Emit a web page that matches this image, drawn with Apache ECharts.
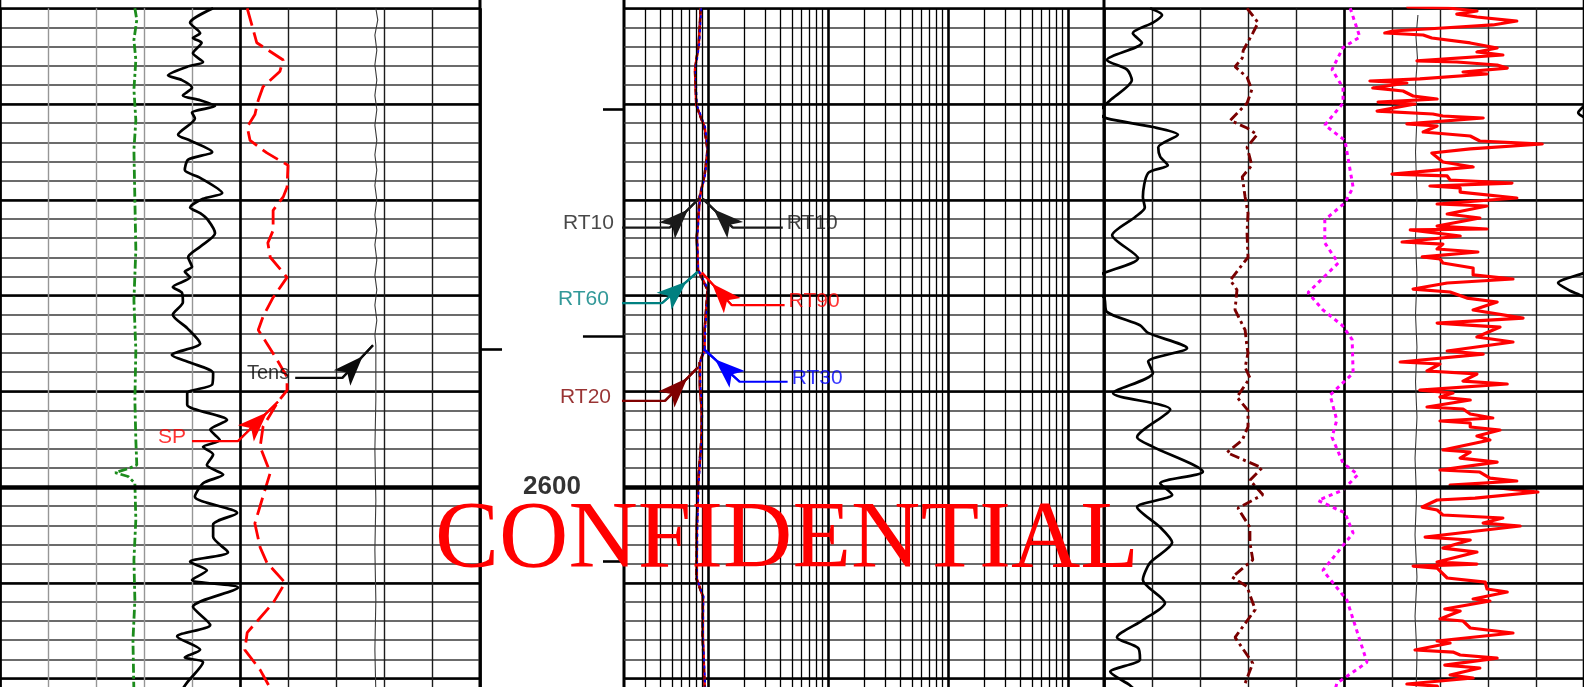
<!DOCTYPE html>
<html>
<head>
<meta charset="utf-8">
<script src="https://cdn.jsdelivr.net/npm/echarts@6.0.0/dist/echarts.min.js"></script>
<style>
html,body{margin:0;padding:0;background:#ffffff;}
#chart{width:1584px;height:687px;}
</style>
</head>
<body>
<div id="chart"></div>
<script>
// ================= DATA =================
// depth track
const depthLabels = [2600];
const depthTicksLeft = [2585.65];
const depthTicksRight = [2560.5, 2584.2, 2607.8];

// Track 1 curves: [value (divisions 0-10), depth]
const greenCurve = [[2.81,2550.0],[2.85,2551.2],[2.79,2553.3],[2.83,2555.4],[2.79,2558.5],[2.83,2561.7],[2.79,2564.8],[2.81,2570.0],[2.83,2575.2],[2.79,2580.5],[2.83,2585.7],[2.81,2590.9],[2.83,2595.1],[2.85,2597.7],[2.71,2598.0],[2.4,2598.5],[2.67,2598.9],[2.81,2599.6],[2.83,2603.4],[2.79,2607.6],[2.81,2611.8],[2.77,2616.0],[2.79,2621.5]];
const grCurve = [[4.44,2550.0],[3.96,2551.5],[4.17,2552.6],[4.02,2553.1],[4.2,2553.6],[4.02,2554.7],[4.23,2555.6],[3.9,2556.1],[3.5,2557.0],[3.79,2557.5],[4.0,2558.3],[3.81,2559.1],[4.17,2559.6],[4.48,2560.2],[4.0,2560.9],[4.06,2561.5],[3.71,2563.2],[3.96,2563.8],[4.42,2565.0],[3.92,2565.8],[3.85,2566.9],[4.17,2567.7],[4.63,2569.3],[4.23,2569.9],[3.96,2570.8],[4.17,2571.4],[4.33,2572.1],[4.48,2573.5],[4.17,2574.9],[3.92,2576.0],[4.0,2577.0],[3.85,2577.5],[3.96,2578.1],[3.6,2579.1],[3.79,2579.7],[3.81,2580.7],[3.6,2582.0],[3.9,2583.4],[4.17,2585.0],[3.58,2586.2],[3.96,2587.0],[4.44,2588.1],[4.42,2589.3],[3.9,2590.2],[3.9,2591.4],[4.73,2593.0],[4.38,2594.0],[4.58,2595.1],[4.23,2595.8],[4.44,2596.6],[4.31,2597.7],[4.65,2598.7],[4.23,2599.6],[4.06,2601.0],[4.94,2602.7],[4.44,2603.9],[4.44,2605.2],[4.75,2606.8],[3.96,2607.8],[4.31,2608.7],[4.0,2609.7],[4.96,2610.5],[4.02,2612.5],[4.38,2614.4],[3.69,2615.6],[4.17,2617.0],[3.85,2617.8],[4.23,2618.3],[3.9,2620.4],[3.75,2621.5]];
const spCurve = [[5.15,2550.0],[5.35,2553.6],[5.9,2555.4],[5.83,2556.6],[5.48,2558.2],[5.38,2559.6],[5.31,2561.1],[5.15,2562.4],[5.21,2563.8],[5.56,2565.1],[6.0,2566.4],[5.98,2568.7],[5.9,2569.7],[5.69,2571.1],[5.69,2573.2],[5.58,2574.5],[5.63,2576.0],[5.98,2578.1],[5.69,2580.2],[5.48,2582.2],[5.38,2583.6],[5.56,2585.0],[5.77,2586.7],[5.98,2588.5],[5.98,2589.9],[5.79,2591.1],[5.48,2593.7],[5.42,2595.8],[5.63,2598.5],[5.52,2600.3],[5.31,2603.8],[5.42,2606.3],[5.56,2607.9],[5.94,2610.0],[5.69,2612.1],[5.15,2615.2],[5.1,2617.0],[5.42,2619.1],[5.63,2621.0]];
const tensCurve = [[7.83,2550.0],[7.87,2551.2],[7.81,2552.8],[7.85,2554.4],[7.81,2555.9],[7.85,2557.5],[7.81,2559.1],[7.85,2560.6],[7.81,2562.2],[7.85,2563.8],[7.81,2565.3],[7.85,2566.9],[7.81,2568.5],[7.85,2570.0],[7.81,2571.6],[7.85,2573.2],[7.81,2574.7],[7.85,2576.3],[7.81,2577.9],[7.85,2579.4],[7.81,2581.0],[7.85,2582.6],[7.81,2584.1],[7.83,2585.2],[7.83,2590.9],[7.81,2596.1],[7.83,2601.4],[7.81,2606.6],[7.83,2611.8],[7.81,2617.0],[7.83,2621.5]];

// Track 2 resistivity curves (ohm.m), shared depth list
const rtDepth = [2550.0,2553.7,2556.4,2560.1,2562.4,2564.8,2567.4,2569.7,2573.9,2577.3,2579.4,2583.6,2585.7,2587.0,2589.6,2592.0,2595.0,2599.5,2604.1,2609.6,2611.4,2615.6,2620.6,2621.5];
const rt10 = [0.87,0.83,0.78,0.80,0.93,0.99,0.94,0.85,0.80,0.82,0.99,0.93,0.93,0.85,0.85,0.88,0.88,0.82,0.80,0.80,0.90,0.90,0.93,0.94];
const rt20 = [0.87,0.84,0.78,0.80,0.93,0.99,0.94,0.85,0.81,0.82,0.99,0.94,0.93,0.85,0.86,0.89,0.88,0.83,0.81,0.80,0.91,0.90,0.94,0.95];
const rt30 = [0.88,0.85,0.79,0.81,0.95,1.00,0.95,0.86,0.82,0.83,1.01,0.95,0.94,0.86,0.87,0.90,0.89,0.84,0.82,0.81,0.92,0.91,0.95,0.96];
const rt60 = [0.87,0.84,0.78,0.80,0.94,0.99,0.93,0.86,0.81,0.82,1.00,0.94,0.93,0.86,0.86,0.89,0.89,0.83,0.81,0.81,0.91,0.91,0.94,0.95];
const rt90 = [0.874,0.84,0.78,0.80,0.94,1.00,0.94,0.86,0.81,0.83,1.00,0.94,0.94,0.86,0.86,0.89,0.89,0.83,0.81,0.81,0.91,0.91,0.94,0.95];

// Track 3 curves: [value (divisions 0-10), depth]
const t3Black = [[0.96,2550.0],[1.21,2550.7],[1.02,2551.5],[0.6,2552.6],[0.79,2553.6],[0.06,2555.4],[0.48,2556.4],[0.58,2557.5],[0.13,2559.6],[-0.02,2560.3],[-0.12,2560.9],[0.06,2561.5],[1.02,2562.4],[1.54,2563.2],[1.13,2564.5],[1.17,2565.5],[1.33,2566.4],[0.92,2567.2],[0.81,2569.7],[0.85,2570.8],[0.65,2571.8],[0.17,2573.7],[0.71,2576.1],[0.02,2577.6],[-0.54,2578.7],[-0.29,2579.5],[0.0,2580.2],[0.06,2581.7],[0.75,2583.1],[0.92,2583.9],[1.73,2585.5],[0.92,2586.9],[1.02,2588.1],[0.19,2590.2],[1.38,2591.9],[0.69,2594.8],[1.02,2595.8],[2.06,2598.4],[1.17,2599.6],[1.42,2600.8],[0.69,2602.1],[1.17,2604.2],[1.42,2605.8],[0.96,2607.9],[0.81,2609.7],[1.27,2612.1],[0.81,2613.9],[0.27,2615.7],[0.71,2616.8],[0.75,2618.0],[0.13,2619.3],[0.54,2620.7],[0.7,2621.5]];
const t3Maroon = [[2.98,2550.0],[3.21,2551.5],[3.1,2552.6],[2.9,2554.4],[2.88,2555.2],[2.73,2556.1],[2.98,2557.2],[3.08,2558.5],[2.98,2559.9],[2.63,2561.7],[2.98,2562.5],[3.19,2563.2],[2.98,2564.5],[3.08,2566.4],[2.88,2567.6],[2.94,2569.7],[3.0,2571.4],[2.98,2573.5],[3.0,2576.0],[2.63,2578.4],[2.77,2579.4],[2.73,2581.5],[2.94,2583.6],[2.98,2585.4],[3.0,2586.0],[2.94,2587.5],[3.04,2588.6],[2.77,2590.6],[3.0,2592.0],[3.0,2593.7],[2.88,2595.1],[2.56,2596.4],[3.29,2598.0],[3.04,2599.3],[3.31,2600.8],[2.79,2602.2],[3.04,2604.2],[3.04,2605.8],[3.1,2607.6],[2.67,2609.4],[2.98,2610.4],[3.15,2612.8],[2.73,2615.7],[3.1,2618.4],[2.94,2620.5],[2.96,2621.5]];
const t3Magenta = [[5.13,2550.0],[5.33,2553.0],[4.98,2554.1],[4.75,2556.4],[4.98,2558.3],[4.98,2559.9],[4.6,2562.2],[5.02,2563.8],[5.19,2568.7],[5.02,2570.3],[4.6,2572.1],[4.6,2574.5],[4.88,2576.6],[4.25,2579.7],[4.56,2581.5],[4.96,2583.1],[5.17,2584.6],[5.19,2588.1],[4.71,2590.4],[4.85,2593.0],[4.75,2594.8],[4.98,2597.5],[5.29,2598.7],[4.98,2600.3],[4.46,2601.4],[5.02,2602.7],[5.19,2604.8],[4.56,2608.7],[5.06,2611.8],[5.48,2618.3],[4.85,2620.5],[4.8,2621.5]];
const t3Thin = [[6.54,2550.7],[6.5,2553.0],[6.53,2555.2],[6.49,2558.0],[6.52,2561.4],[6.49,2565.0],[6.52,2569.7],[6.49,2574.0],[6.52,2578.1],[6.49,2582.0],[6.52,2585.4],[6.49,2589.0],[6.52,2592.7],[6.48,2597.0],[6.51,2601.0],[6.48,2605.0],[6.52,2609.4],[6.48,2613.5],[6.52,2617.5],[6.5,2621.5]];
const t3Red = [[6.33,2549.86],[7.17,2549.97],[7.77,2550.28],[7.35,2550.60],[7.77,2550.91],[8.60,2551.33],[8.10,2551.74],[7.06,2552.06],[6.02,2552.37],[5.85,2552.58],[6.65,2552.79],[6.83,2553.10],[7.63,2553.62],[8.19,2554.15],[7.77,2554.56],[8.31,2554.88],[6.52,2555.50],[7.35,2555.61],[8.19,2555.92],[8.40,2556.24],[7.48,2556.65],[7.98,2556.86],[6.58,2557.38],[5.54,2557.59],[6.31,2557.80],[5.60,2558.32],[6.23,2558.64],[6.44,2559.16],[6.94,2559.47],[5.71,2559.79],[6.48,2560.00],[5.69,2560.73],[6.85,2561.04],[7.06,2561.25],[7.90,2561.46],[6.31,2562.08],[6.94,2562.29],[6.65,2562.92],[7.63,2563.34],[7.83,2563.86],[9.13,2564.17],[7.63,2564.69],[6.83,2565.11],[7.06,2566.05],[7.69,2566.57],[6.0,2567.31],[7.15,2567.51],[7.21,2567.93],[8.5,2568.25],[6.79,2568.56],[7.42,2568.77],[7.42,2569.19],[8.60,2569.81],[6.94,2570.44],[7.98,2570.65],[7.15,2571.48],[7.83,2571.90],[6.94,2572.74],[7.98,2573.05],[6.38,2573.15],[7.42,2573.78],[6.21,2574.41],[7.06,2574.62],[6.94,2575.14],[7.79,2575.45],[6.63,2575.97],[7.0,2576.18],[7.06,2576.60],[7.69,2577.12],[7.69,2577.85],[8.52,2578.27],[7.15,2578.69],[6.44,2579.32],[7.21,2579.63],[7.56,2580.26],[8.19,2580.67],[7.69,2581.51],[8.73,2582.35],[6.94,2582.87],[8.25,2583.29],[7.77,2584.33],[8.52,2584.85],[7.15,2585.79],[7.90,2586.11],[6.17,2586.94],[7.0,2587.15],[6.73,2587.88],[7.77,2588.19],[7.48,2588.93],[8.40,2589.24],[6.58,2589.87],[7.27,2590.18],[7.0,2590.60],[7.63,2590.91],[6.73,2591.64],[7.48,2591.85],[7.63,2592.37],[8.10,2592.79],[7.0,2593.10],[7.63,2593.31],[7.63,2593.73],[8.25,2594.04],[7.77,2594.67],[8.04,2595.09],[7.06,2596.13],[7.63,2596.34],[7.42,2596.97],[8.19,2597.39],[7.0,2598.22],[7.83,2598.43],[8.04,2599.06],[8.60,2599.37],[7.21,2599.79],[8.10,2600.00],[8.46,2600.21],[9.04,2600.52],[7.73,2601.15],[6.94,2601.35],[6.63,2602.09],[6.94,2602.40],[7.06,2602.92],[8.31,2603.23],[7.90,2603.76],[8.67,2604.07],[6.69,2605.22],[7.63,2605.53],[7.06,2606.37],[7.77,2606.79],[6.94,2607.83],[7.77,2608.04],[6.44,2608.25],[6.94,2608.46],[7.15,2609.50],[7.94,2609.92],[7.98,2610.65],[8.40,2610.96],[7.69,2611.69],[8.04,2611.90],[7.10,2612.74],[7.42,2612.95],[7.0,2613.78],[7.48,2613.99],[7.63,2614.72],[8.52,2615.24],[6.94,2616.08],[7.21,2616.29],[6.48,2617.02],[7.27,2617.23],[7.42,2617.54],[8.19,2617.86],[7.10,2618.59],[7.83,2618.90],[7.21,2619.63],[7.69,2619.94],[6.31,2620.57],[6.94,2620.78],[7.0,2621.41]];

// Curve annotations: label anchor, elbow, arrow tip (data units of each track)
const track1Notes = [
  {text:'Tens', key:'Tens', start:[6.15,2588.6], elbow:[7.13,2588.6], tip:[7.77,2585.2]},
  {text:'SP',   key:'SP',   start:[4.0,2595.2],  elbow:[4.96,2595.2], tip:[5.79,2591.1]}
];
const track2Notes = [
  {text:'RT10', key:'RT10', start:[0.185,2572.9], elbow:[0.483,2572.9], tip:[0.84,2569.9]},
  {text:'RT10', key:'RT10', start:[4.21,2572.9],  elbow:[1.61,2572.9],  tip:[0.908,2569.9]},
  {text:'RT60', key:'RT60', start:[0.168,2580.8], elbow:[0.414,2580.8], tip:[0.826,2577.5]},
  {text:'RT90', key:'RT90', start:[4.36,2581.0],  elbow:[1.58,2581.0],  tip:[0.89,2577.6]},
  {text:'RT30', key:'RT30', start:[4.62,2589.0],  elbow:[1.84,2589.0],  tip:[0.926,2585.6]},
  {text:'RT20', key:'RT20', start:[0.175,2591.0], elbow:[0.439,2591.0], tip:[0.826,2587.5]}
];
const watermarkText = 'CONFIDENTIAL';

// ================= STYLE / LAYOUT =================
const COLORS = {Tens:'#0a0a0a', SP:'#ff0000', RT10:'#1a1a1a', RT20:'#800000', RT30:'#0000ff', RT60:'#008080', RT90:'#ff0000'};
const FONT = '"Liberation Sans", Arial, sans-serif';
const DMIN = 2550, DMAX = 2622;
const TOP = 8.3, PX_PER_UNIT = 9.575;
const H = (DMAX - DMIN) * PX_PER_UNIT;
const tracks = [{left:0,width:480},{left:480,width:144},{left:624,width:480},{left:1104,width:480}];

const grid = tracks.map(t => ({left:t.left, width:t.width, top:TOP, height:H, show:false, outerBoundsMode:'none', containLabel:false}))
  .concat(tracks.map(t => ({left:t.left, width:t.width, top:-6, height:705, show:true, outerBoundsMode:'none', containLabel:false,
    borderColor:'#000', borderWidth:2.6, backgroundColor:'transparent'})));

const hid = {axisLine:{show:false}, axisTick:{show:false}, axisLabel:{show:false}};
const T1_COLORS = ['#000','#969696','#969696','#969696','#969696','#000','#1c1c1c','#1c1c1c','#1c1c1c','#1c1c1c','#000'];

const xAxis = [
  Object.assign({gridIndex:0, type:'value', min:0, max:10, interval:1, position:'bottom',
    splitLine:{show:true, lineStyle:{color:T1_COLORS, width:1.4}}}, hid),
  Object.assign({gridIndex:0, type:'value', min:0, max:10, interval:5, position:'top',
    splitLine:{show:true, lineStyle:{color:'#000', width:2.6}}}, hid),
  Object.assign({gridIndex:1, type:'value', min:0, max:1, splitLine:{show:false}}, hid),
  Object.assign({gridIndex:2, type:'log', logBase:10, min:0.2, max:2000, splitLine:{show:false}}, hid),
  Object.assign({gridIndex:3, type:'value', min:0, max:10, interval:1, position:'bottom',
    splitLine:{show:true, lineStyle:{color:'#1c1c1c', width:1.4}}}, hid),
  Object.assign({gridIndex:3, type:'value', min:0, max:10, interval:5, position:'top',
    splitLine:{show:true, lineStyle:{color:'#000', width:2.6}}}, hid)
].concat([4,5,6,7].map(g => ({gridIndex:g, type:'value', show:false, splitLine:{show:false}})));

const yMinor = g => Object.assign({gridIndex:g, type:'value', inverse:true, min:DMIN, max:DMAX, interval:2, position:'left',
  splitLine:{show:true, lineStyle:{color:'#3a3a3a', width:1.5}}}, hid);
const yMajor = g => Object.assign({gridIndex:g, type:'value', inverse:true, min:DMIN, max:DMAX, interval:10, position:'right',
  splitLine:{show:true, lineStyle:{color:'#000', width:2.6}}}, hid);
const yAxis = [
  yMinor(0), yMajor(0),
  Object.assign({gridIndex:1, type:'value', inverse:true, min:DMIN, max:DMAX, splitLine:{show:false}}, hid),
  yMinor(2), yMajor(2),
  yMinor(3), yMajor(3)
].concat([4,5,6,7].map(g => ({gridIndex:g, type:'value', show:false, splitLine:{show:false}})));

// axis index pairs per track
const AX = {t1:[0,0], depth:[2,2], t2:[3,3], t3:[4,5]};

function host(ax, lines, lineStyle) {
  return {type:'line', data:[], xAxisIndex:ax[0], yAxisIndex:ax[1], z:1, silent:true, animation:false,
    markLine:{silent:true, animation:false, symbol:['none','none'], label:{show:false},
      emphasis:{disabled:true}, lineStyle:Object.assign({type:'solid', color:'#000'}, lineStyle||{}), data:lines}};
}
function curve(name, data, ax, lineStyle, extra) {
  return Object.assign({type:'line', name:name, data:data, xAxisIndex:ax[0], yAxisIndex:ax[1],
    showSymbol:false, symbol:'none', z:3, silent:true, animation:false, lineStyle:lineStyle}, extra||{});
}
const heavyLines = depthLabels.map(d => ({yAxis:d, lineStyle:{width:4.6, color:'#000', type:'solid'}}));

// log-grid lines for resistivity track
const logLines = [];
[0.1, 1, 10, 100, 1000].forEach(dec => {
  for (let m = 1; m <= 9; m++) {
    const v = +(m * dec).toPrecision(3);
    if (v > 0.2 && v < 2000) logLines.push({xAxis:v, lineStyle:{type:'solid', color:'#000', width: m === 1 ? 2.6 : 1.3}});
  }
});

// depth ticks
const tickLines = []
  .concat(depthTicksLeft.map(d => [{coord:[0, d]}, {coord:[0.153, d]}]))
  .concat(depthTicksRight.map((d, i) => [{coord:[i === 1 ? 0.715 : 0.854, d]}, {coord:[1, d]}]));

function noteSeries(notes, ax) {
  const out = [];
  notes.forEach(n => {
    const c = COLORS[n.key];
    out.push({type:'line', data:[n.start, n.elbow, n.tip], xAxisIndex:ax[0], yAxisIndex:ax[1],
      showSymbol:false, symbol:'none', clip:false, z:6, silent:true, animation:false,
      lineStyle:{color:c, width:2.2},
      markLine:{silent:true, animation:false, emphasis:{disabled:true}, label:{show:false},
        symbol:['none','arrow'], symbolSize:[17,30], lineStyle:{color:c, width:2.2, type:'solid'},
        data:[[{coord:n.elbow, symbol:'none'}, {coord:n.tip, symbol:'arrow', symbolSize:[17,30], symbolOffset:[0,'50%']}]]}});
  });
  out.push({type:'scatter', xAxisIndex:ax[0], yAxisIndex:ax[1], clip:false, z:7, silent:true, animation:false,
    symbol:'circle', symbolSize:0, itemStyle:{color:'rgba(0,0,0,0)'},
    data: notes.map(n => {
      const left = n.start[0] < n.elbow[0];
      return {name:n.text, value:n.start,
        label:{show:true, position: left ? 'left' : 'right', distance: left ? 6 : 4, color:COLORS[n.key],
          fontSize: n.key === 'Tens' ? 20 : 21, fontFamily:FONT, offset:[0,-4], formatter:p => p.name}};
    })});
  return out;
}

const series = [
  // ---- Track 1
  host(AX.t1, heavyLines),
  curve('green', greenCurve, AX.t1, {color:'#1c8c1c', width:2.8, type:[9,3,3,3]}),
  curve('GR', grCurve, AX.t1, {color:'#000', width:2.7}, {smooth:0.25}),
  curve('SP', spCurve, AX.t1, {color:'#ff0000', width:2.8, type:[18,7]}),
  curve('Tens', tensCurve, AX.t1, {color:'#3a3a3a', width:1.1}),
  // ---- Depth track
  host(AX.depth, tickLines, {width:2.6}),
  {type:'scatter', xAxisIndex:AX.depth[0], yAxisIndex:AX.depth[1], symbolSize:0, itemStyle:{color:'rgba(0,0,0,0)'},
    silent:true, animation:false, z:5,
    data: depthLabels.map(d => ({name:String(d), value:[0.5, d]})),
    label:{show:true, position:'inside', formatter:p => p.name, fontSize:26, fontWeight:'bold', color:'#000', fontFamily:FONT}},
  // ---- Track 2
  host(AX.t2, logLines.concat(heavyLines)),
  curve('RT10', rtDepth.map((d,i) => [rt10[i], d]), AX.t2, {color:'#202020', width:1.6}),
  curve('RT60', rtDepth.map((d,i) => [rt60[i], d]), AX.t2, {color:'#008080', width:1.6}),
  curve('RT90', rtDepth.map((d,i) => [rt90[i], d]), AX.t2, {color:'#ff0000', width:2.4}),
  curve('RT20', rtDepth.map((d,i) => [rt20[i], d]), AX.t2, {color:'#800000', width:2.4, type:[6,3]}),
  curve('RT30', rtDepth.map((d,i) => [rt30[i], d]), AX.t2, {color:'#0000ff', width:1.8, type:[3,4]}),
  // ---- Track 3
  host(AX.t3, heavyLines),
  curve('thin', t3Thin, AX.t3, {color:'#3a3a3a', width:1.1}),
  curve('black', t3Black, AX.t3, {color:'#000', width:2.7}, {smooth:0.25}),
  curve('blackWrap', t3Black.map(p => [p[0] + 10, p[1]]), AX.t3, {color:'#000', width:2.7}, {smooth:0.25}),
  curve('maroon', t3Maroon, AX.t3, {color:'#7a0000', width:2.9, type:[10,4,3,4]}),
  curve('magenta', t3Magenta, AX.t3, {color:'#ff00ff', width:3, type:[4,4]}),
  curve('red', t3Red, AX.t3, {color:'#ff0000', width:3.2, join:'round', cap:'round'})
].concat(noteSeries(track1Notes, AX.t1), noteSeries(track2Notes, AX.t2));

const chart = echarts.init(document.getElementById('chart'), null, {renderer:'canvas'});
chart.setOption({
  animation:false,
  backgroundColor:'#ffffff',
  grid: grid,
  xAxis: xAxis,
  yAxis: yAxis,
  series: series,
  graphic: [{type:'text', z:100, x:787, y:542, silent:true,
    style:{text:watermarkText, fill:'#ff0000', font:'96px "Liberation Serif", "Times New Roman", serif',
      align:'center', verticalAlign:'middle', textAlign:'center', textVerticalAlign:'middle'}}]
});
</script>
</body>
</html>
